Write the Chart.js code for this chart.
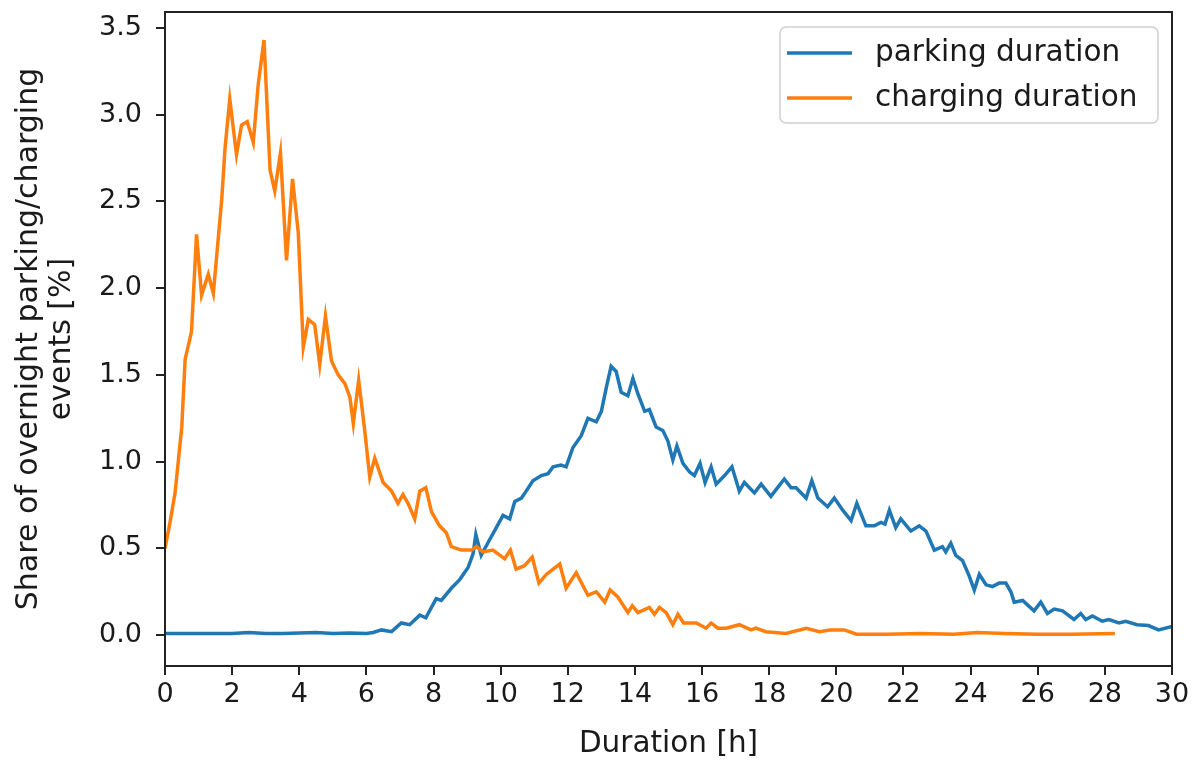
<!DOCTYPE html>
<html>
<head>
<meta charset="utf-8">
<script src="https://cdn.jsdelivr.net/npm/chart.js@4/dist/chart.umd.min.js"></script>
<style>
  body { margin: 0; background: #fff; }
  canvas { display: block; }
</style>
</head>
<body>
<canvas id="durations" width="1196" height="765"></canvas>
<script>
// values (hours, share in %)
var parkingHours = [0, 0.5, 1, 1.5, 2, 2.5, 3, 3.5, 4, 4.5, 5, 5.5, 6, 6.2, 6.45, 6.75, 7.04, 7.29, 7.59, 7.77,
    8.08, 8.23, 8.53, 8.78, 9.03, 9.18, 9.26, 9.42, 9.67, 9.87, 10.07, 10.27, 10.42, 10.62, 10.76, 10.96,
    11.21, 11.41, 11.56, 11.8, 11.95, 12.15, 12.4, 12.6, 12.85, 13, 13.15, 13.29, 13.44, 13.59, 13.79, 13.94,
    14.09, 14.29, 14.43, 14.63, 14.83, 14.98, 15.13, 15.25, 15.43, 15.63, 15.77, 15.94, 16.09, 16.27, 16.42,
    16.67, 16.89, 17.11, 17.26, 17.56, 17.76, 18.05, 18.25, 18.45, 18.65, 18.8, 19.1, 19.27, 19.45, 19.74,
    19.94, 20.19, 20.44, 20.61, 20.88, 21.13, 21.33, 21.45, 21.58, 21.77, 21.92, 22.22, 22.47, 22.67, 22.92,
    23.16, 23.26, 23.41, 23.56, 23.76, 23.96, 24.11, 24.26, 24.46, 24.65, 24.85, 25.05, 25.2, 25.3, 25.55,
    25.89, 26.09, 26.29, 26.49, 26.74, 27.08, 27.28, 27.43, 27.63, 27.92, 28.12, 28.42, 28.62, 28.96, 29.3,
    29.6, 30];
var parkingShare = [0.01, 0.01, 0.01, 0.01, 0.01, 0.015, 0.01, 0.01, 0.012, 0.015, 0.01, 0.012, 0.01, 0.015, 0.03, 0.02, 0.07, 0.06, 0.115, 0.1,
    0.21, 0.2, 0.27, 0.32, 0.39, 0.47, 0.58, 0.46, 0.55, 0.62, 0.69, 0.67, 0.77, 0.79, 0.83, 0.89,
    0.92, 0.93, 0.97, 0.98, 0.97, 1.08, 1.15, 1.25, 1.23, 1.29, 1.43, 1.55, 1.52, 1.4, 1.38, 1.48,
    1.39, 1.29, 1.3, 1.2, 1.18, 1.12, 1.01, 1.09, 0.99, 0.94, 0.92, 0.99, 0.88, 0.97, 0.87,
    0.92, 0.97, 0.83, 0.88, 0.82, 0.87, 0.8, 0.85, 0.9, 0.85, 0.85, 0.79, 0.89, 0.79, 0.74,
    0.79, 0.72, 0.66, 0.76, 0.63, 0.63, 0.65, 0.64, 0.72, 0.62, 0.67, 0.6, 0.63, 0.6, 0.49,
    0.51, 0.48, 0.53, 0.46, 0.43, 0.34, 0.26, 0.35, 0.29, 0.28, 0.3, 0.3, 0.25, 0.19, 0.2,
    0.14, 0.19, 0.125, 0.15, 0.14, 0.09, 0.125, 0.09, 0.11, 0.08, 0.09, 0.07, 0.08, 0.06, 0.055,
    0.03, 0.05];

var chargingHours = [0, 0.15, 0.3, 0.5, 0.6, 0.79, 0.94, 1.09, 1.29, 1.44, 1.69, 1.79, 1.93, 2.13, 2.28, 2.45,
    2.63, 2.78, 2.95, 3.13, 3.27, 3.44, 3.62, 3.8, 3.97, 4.12, 4.27, 4.46, 4.61, 4.78, 4.96, 5.16, 5.36,
    5.51, 5.61, 5.77, 5.95, 6.1, 6.25, 6.5, 6.75, 6.94, 7.09, 7.24, 7.44, 7.59, 7.77, 7.94, 8.18, 8.38,
    8.53, 8.83, 9.13, 9.28, 9.47, 9.77, 10.12, 10.29, 10.46, 10.71, 10.94, 11.14, 11.36, 11.76, 11.95,
    12.25, 12.6, 12.85, 13.1, 13.26, 13.49, 13.79, 13.92, 14.09, 14.43, 14.58, 14.73, 14.93, 15.13, 15.28,
    15.45, 15.83, 16.12, 16.27, 16.47, 16.72, 17.11, 17.46, 17.6, 17.9, 18.5, 19.1, 19.5, 19.8, 20.24,
    20.6, 21.5, 22.5, 23.5, 24.2, 25, 26, 27, 28.3];
var chargingShare = [0.5, 0.65, 0.82, 1.2, 1.59, 1.75, 2.31, 1.96, 2.08, 1.97, 2.51, 2.81, 3.09, 2.77, 2.94, 2.96,
    2.84, 3.18, 3.43, 2.68, 2.56, 2.78, 2.16, 2.63, 2.32, 1.66, 1.82, 1.79, 1.56, 1.84, 1.58, 1.5, 1.45,
    1.37, 1.22, 1.47, 1.18, 0.91, 1.02, 0.88, 0.83, 0.76, 0.81, 0.76, 0.67, 0.83, 0.85, 0.71, 0.63, 0.59,
    0.51, 0.49, 0.49, 0.51, 0.48, 0.49, 0.44, 0.49, 0.38, 0.4, 0.45, 0.3, 0.35, 0.41, 0.27,
    0.36, 0.23, 0.25, 0.19, 0.26, 0.22, 0.13, 0.17, 0.13, 0.16, 0.12, 0.16, 0.13, 0.06, 0.12,
    0.07, 0.07, 0.04, 0.07, 0.04, 0.04, 0.06, 0.03, 0.04, 0.02, 0.01, 0.04, 0.02, 0.03, 0.03,
    0.005, 0.005, 0.01, 0.005, 0.015, 0.01, 0.005, 0.005, 0.01];

var xTickStep = 2;
var yTickStep = 0.5;

function toPoints(xs, ys) {
    return xs.map(function (x, i) { return { x: x, y: ys[i] }; });
}

var fontFamily = "'DejaVu Sans', sans-serif";
var textColor = '#1a1a1a';

// full box around the axes, like matplotlib
var framePlugin = {
    id: 'frame',
    afterDraw: function (chart) {
        var a = chart.chartArea;
        var ctx = chart.ctx;
        ctx.save();
        ctx.strokeStyle = '#222';
        ctx.lineWidth = 2;
        ctx.strokeRect(a.left, a.top, a.right - a.left, a.bottom - a.top);
        ctx.restore();
    }
};

// legend box in the upper right corner
var boxLegend = {
    id: 'boxLegend',
    afterDraw: function (chart) {
        var ctx = chart.ctx;
        var a = chart.chartArea;
        var boxRight = a.right - 14, boxTop = a.top + 15;
        var boxW = 378, boxH = 96;
        var x0 = boxRight - boxW;
        ctx.save();
        ctx.beginPath();
        ctx.roundRect(x0, boxTop, boxW, boxH, 6);
        ctx.fillStyle = 'rgba(255,255,255,0.8)';
        ctx.fill();
        ctx.strokeStyle = '#d0d0d0';
        ctx.lineWidth = 1.5;
        ctx.stroke();
        ctx.font = '29.5px ' + fontFamily;
        ctx.textBaseline = 'middle';
        chart.data.datasets.forEach(function (ds, i) {
            var y = boxTop + 26 + i * 45;
            ctx.beginPath();
            ctx.moveTo(x0 + 7, y);
            ctx.lineTo(x0 + 72, y);
            ctx.strokeStyle = ds.borderColor;
            ctx.lineWidth = 3.5;
            ctx.stroke();
            ctx.fillStyle = textColor;
            ctx.fillText(ds.label, x0 + 95, y);
        });
        ctx.restore();
    }
};

window.addEventListener("load", function () {
    var ctx = document.getElementById('durations').getContext('2d');
    new Chart(ctx, {
        type: 'line',
        data: {
            datasets: [
                {
                    label: 'parking duration',
                    data: toPoints(parkingHours, parkingShare),
                    borderColor: '#1f77b4',
                    borderWidth: 3.5,
                    pointRadius: 0,
                    tension: 0,
                    order: 1
                },
                {
                    label: 'charging duration',
                    data: toPoints(chargingHours, chargingShare),
                    borderColor: '#ff7f0e',
                    borderWidth: 3.5,
                    pointRadius: 0,
                    tension: 0,
                    order: 0
                }
            ]
        },
        options: {
            responsive: false,
            animation: false,
            layout: { padding: { left: 0, right: 24, top: 12, bottom: 0 } },
            plugins: {
                legend: { display: false },
                tooltip: { enabled: false }
            },
            scales: {
                x: {
                    type: 'linear',
                    min: 0,
                    max: 30,
                    border: { display: false },
                    grid: { drawOnChartArea: false, drawTicks: true, tickLength: 9, color: '#222', lineWidth: 2 },
                    ticks: {
                        stepSize: xTickStep,
                        padding: 4,
                        color: textColor,
                        font: { family: fontFamily, size: 27 },
                        maxRotation: 0,
                        autoSkip: false,
                        callback: function (v) { return v.toFixed(0); }
                    },
                    title: {
                        display: true,
                        text: 'Duration [h]',
                        color: textColor,
                        font: { family: fontFamily, size: 29.5 },
                        padding: { top: 0, bottom: 3 }
                    },
                    afterFit: function (scale) {
                        scale.height = 99;
                        scale.paddingLeft = 0;
                        scale.paddingRight = 0;
                    }
                },
                y: {
                    type: 'linear',
                    min: -0.178,
                    max: 3.592,
                    border: { display: false },
                    grid: { drawOnChartArea: false, drawTicks: true, tickLength: 9, color: '#222', lineWidth: 2 },
                    ticks: {
                        stepSize: yTickStep,
                        includeBounds: false,
                        padding: 14,
                        color: textColor,
                        font: { family: fontFamily, size: 27 },
                        callback: function (v) { return v.toFixed(1); }
                    },
                    title: {
                        display: true,
                        text: ['Share of overnight parking/charging', 'events [%]'],
                        color: textColor,
                        font: { family: fontFamily, size: 30, lineHeight: 1.1 },
                        padding: { top: 13, bottom: 0 }
                    },
                    afterFit: function (scale) {
                        scale.width = 165;
                        scale.paddingTop = 0;
                        scale.paddingBottom = 0;
                    }
                }
            }
        },
        plugins: [framePlugin, boxLegend]
    });
});
</script>
</body>
</html>
